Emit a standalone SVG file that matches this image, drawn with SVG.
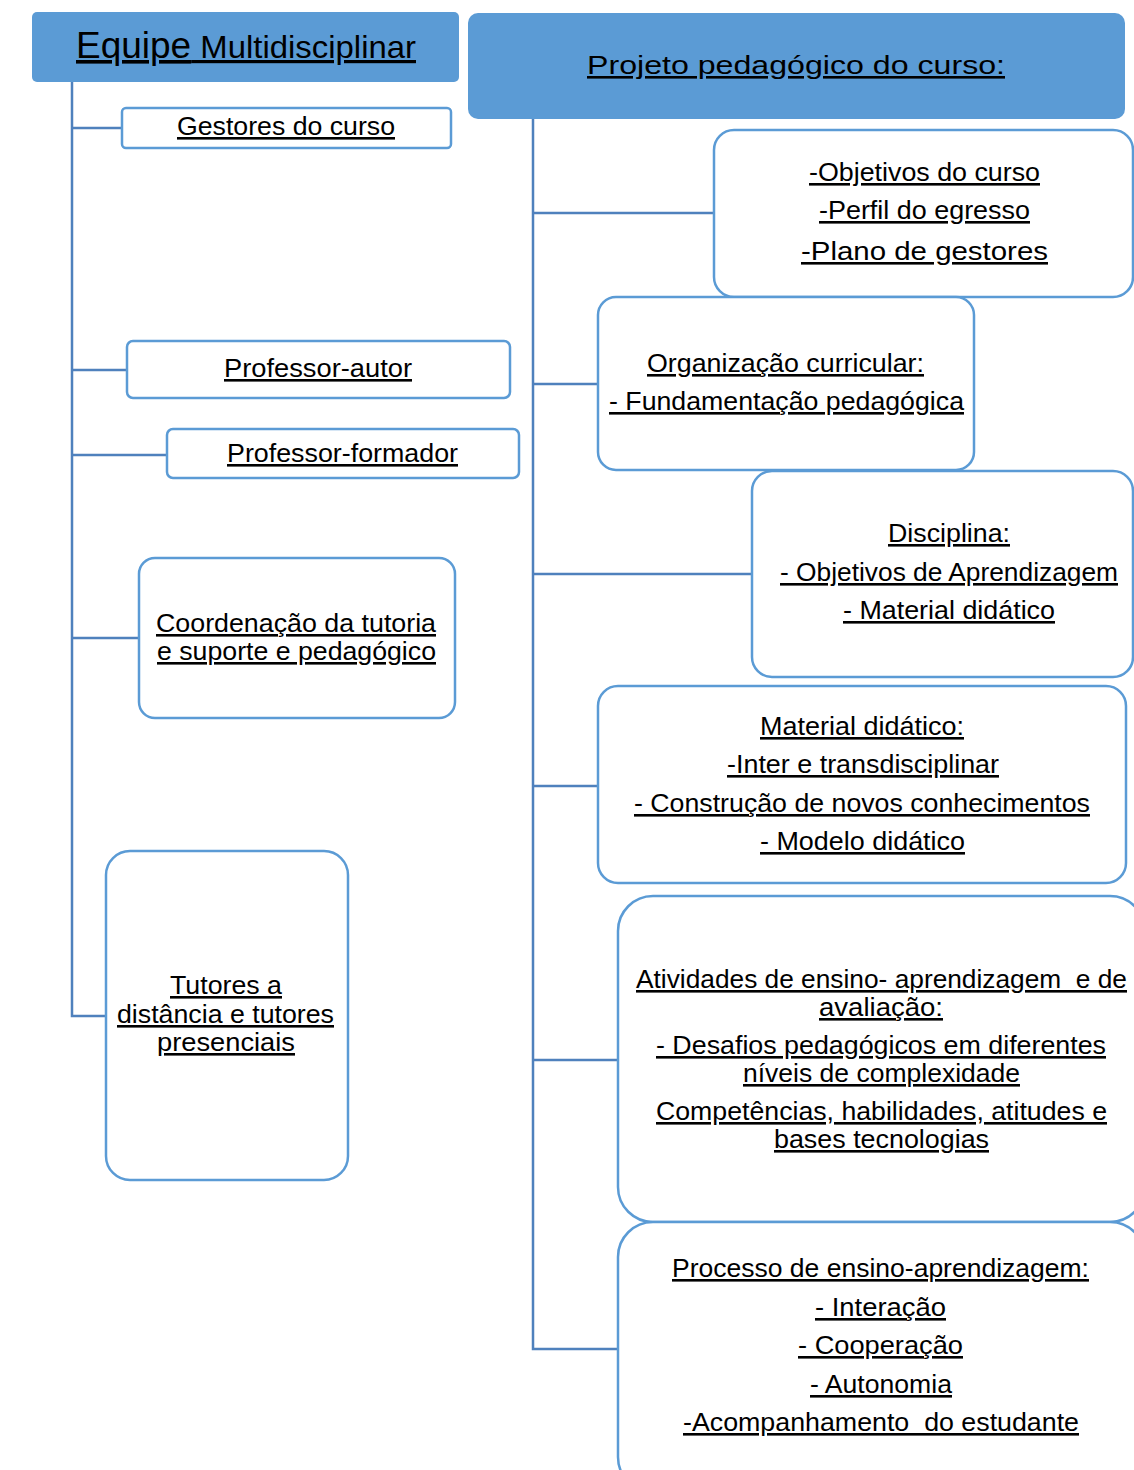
<svg xmlns="http://www.w3.org/2000/svg" width="1134" height="1470" viewBox="0 0 1134 1470">
<style>
.hdr{fill:#5b9bd5;stroke:none}
.box{fill:#fff;stroke:#5b9bd5;stroke-width:2.5}
.con{fill:none;stroke:#4f81bd;stroke-width:2.5}
text{font-family:"Liberation Sans",Arial,sans-serif;font-size:26px;fill:#000;text-anchor:middle;text-decoration:underline}
</style>
<rect width="1134" height="1470" fill="#fff"/>
<g id="connectors">
<path class="con" d="M72,82 V1016 H106"/>
<path class="con" d="M72,128 H122"/>
<path class="con" d="M72,370 H127"/>
<path class="con" d="M72,455 H167"/>
<path class="con" d="M72,638 H139"/>
<path class="con" d="M533,119 V1349 H618"/>
<path class="con" d="M533,213 H714"/>
<path class="con" d="M533,384 H598"/>
<path class="con" d="M533,574 H752"/>
<path class="con" d="M533,786 H598"/>
<path class="con" d="M533,1060 H618"/>
</g>
<g id="equipe">
<rect class="hdr" x="32" y="12" width="427" height="70" rx="5"/>
<text x="246" y="58" textLength="340" lengthAdjust="spacingAndGlyphs"><tspan font-size="36">Equipe</tspan><tspan font-size="32"> Multidisciplinar</tspan></text>
</g>
<g id="projeto">
<rect class="hdr" x="468" y="13" width="657" height="106" rx="10"/>
<text x="796" y="74" font-size="32" textLength="418" lengthAdjust="spacingAndGlyphs">Projeto pedagógico do curso:</text>
</g>
<g id="gestores">
<rect class="box" x="122" y="108" width="329" height="40" rx="4"/>
<text x="286" y="135" textLength="218" lengthAdjust="spacingAndGlyphs">Gestores do curso</text>
</g>
<g id="prof-autor">
<rect class="box" x="127" y="341" width="383" height="57" rx="6"/>
<text x="318" y="377" textLength="188" lengthAdjust="spacingAndGlyphs">Professor-autor</text>
</g>
<g id="prof-formador">
<rect class="box" x="167" y="429" width="352" height="49" rx="6"/>
<text x="342.5" y="462" textLength="231" lengthAdjust="spacingAndGlyphs">Professor-formador</text>
</g>
<g id="coordenacao">
<rect class="box" x="139" y="558" width="316" height="160" rx="16"/>
<text x="296" y="632" textLength="280" lengthAdjust="spacingAndGlyphs">Coordenação da tutoria</text>
<text x="296.5" y="660" textLength="279" lengthAdjust="spacingAndGlyphs">e suporte e pedagógico</text>
</g>
<g id="tutores">
<rect class="box" x="106" y="851" width="242" height="329" rx="24"/>
<text x="226" y="994" font-size="24" textLength="112" lengthAdjust="spacingAndGlyphs">Tutores a</text>
<text x="225.5" y="1023" font-size="24" textLength="217" lengthAdjust="spacingAndGlyphs">distância e tutores</text>
<text x="226" y="1051" font-size="24" textLength="138" lengthAdjust="spacingAndGlyphs">presenciais</text>
</g>
<g id="objetivos">
<rect class="box" x="714" y="130" width="419" height="167" rx="20"/>
<text x="924.5" y="181" font-size="29" textLength="231" lengthAdjust="spacingAndGlyphs">-Objetivos do curso</text>
<text x="924.5" y="219" font-size="29" textLength="211" lengthAdjust="spacingAndGlyphs">-Perfil do egresso</text>
<text x="924.5" y="260" font-size="31" textLength="247" lengthAdjust="spacingAndGlyphs">-Plano de gestores</text>
</g>
<g id="organizacao">
<rect class="box" x="598" y="297" width="376" height="173" rx="18"/>
<text x="785.5" y="372" textLength="277" lengthAdjust="spacingAndGlyphs">Organização curricular:</text>
<text x="786.5" y="410" textLength="355" lengthAdjust="spacingAndGlyphs">- Fundamentação pedagógica</text>
</g>
<g id="disciplina">
<rect class="box" x="752" y="471" width="381" height="206" rx="20"/>
<text x="949" y="542" textLength="122" lengthAdjust="spacingAndGlyphs">Disciplina:</text>
<text x="949" y="581" textLength="338" lengthAdjust="spacingAndGlyphs">- Objetivos de Aprendizagem</text>
<text x="949" y="619" textLength="212" lengthAdjust="spacingAndGlyphs">- Material didático</text>
</g>
<g id="material">
<rect class="box" x="598" y="686" width="528" height="197" rx="20"/>
<text x="862" y="735" textLength="204" lengthAdjust="spacingAndGlyphs">Material didático:</text>
<text x="863" y="773" textLength="272" lengthAdjust="spacingAndGlyphs">-Inter e transdisciplinar</text>
<text x="862" y="812" textLength="456" lengthAdjust="spacingAndGlyphs">- Construção de novos conhecimentos</text>
<text x="862.5" y="850" textLength="205" lengthAdjust="spacingAndGlyphs">- Modelo didático</text>
</g>
<g id="atividades">
<rect class="box" x="618" y="896" width="527" height="326" rx="35"/>
<text x="881.5" y="988" textLength="491" lengthAdjust="spacingAndGlyphs" xml:space="preserve">Atividades de ensino- aprendizagem  e de</text>
<text x="881" y="1016" textLength="124" lengthAdjust="spacingAndGlyphs">avaliação:</text>
<text x="881" y="1054" textLength="450" lengthAdjust="spacingAndGlyphs">- Desafios pedagógicos em diferentes</text>
<text x="881.5" y="1082" textLength="277" lengthAdjust="spacingAndGlyphs">níveis de complexidade</text>
<text x="881.5" y="1120" textLength="451" lengthAdjust="spacingAndGlyphs">Competências, habilidades, atitudes e</text>
<text x="881.5" y="1148" textLength="215" lengthAdjust="spacingAndGlyphs">bases tecnologias</text>
</g>
<g id="processo">
<rect class="box" x="618" y="1222" width="527" height="270" rx="35"/>
<text x="880.5" y="1277" textLength="417" lengthAdjust="spacingAndGlyphs">Processo de ensino-aprendizagem:</text>
<text x="880.5" y="1316" textLength="131" lengthAdjust="spacingAndGlyphs">- Interação</text>
<text x="880.5" y="1354" textLength="165" lengthAdjust="spacingAndGlyphs">- Cooperação</text>
<text x="881" y="1393" textLength="142" lengthAdjust="spacingAndGlyphs">- Autonomia</text>
<text x="881" y="1431" textLength="396" lengthAdjust="spacingAndGlyphs" xml:space="preserve">-Acompanhamento  do estudante</text>
</g>
</svg>
